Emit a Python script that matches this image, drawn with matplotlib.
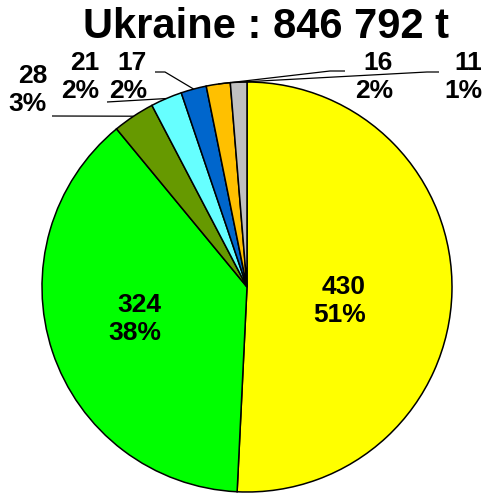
import numpy as np
import matplotlib.pyplot as plt

plt.rcParams['font.family'] = ['Liberation Sans', 'DejaVu Sans']

# production in thousand tonnes
values = [430, 324, 28, 21, 17, 16, 11]
colors = ['#FFFF00', '#00FF00', '#669900', '#66FFFF', '#0066CC', '#FFC000', '#C0C0C0']
title = 'Ukraine : 846 792 t'

# label anchors (right edge, vertical centre) in pixels, y measured from the bottom
label_pos = [(366, 192), (161, 174), (47, 403), (99, 416), (147, 416), (393, 416), (482, 416)]
# leader line waypoints for the small slices (label side first)
leaders = {2: [(52, 377)], 3: [(107, 391)], 4: [(155, 421), (165, 421)],
           5: [(345, 422), (330, 422)], 6: [(439, 421), (427, 421)]}

fig = plt.figure(figsize=(4.9, 4.93), dpi=100)
ax = fig.add_axes([0, 0, 1, 1])

cx, cy, r = 247, 206, 205
wedges, _ = ax.pie(values, colors=colors, startangle=90, counterclock=False,
                   center=(cx, cy), radius=r, frame=True,
                   wedgeprops=dict(edgecolor='black', linewidth=1.1))
ax.set_xlim(0, 490)
ax.set_ylim(0, 493)
ax.axis('off')

total = sum(values)
for i, (w, v) in enumerate(zip(wedges, values)):
    lx, ly = label_pos[i]
    ax.text(lx, ly, f'{v}\n{v / total * 100:.0f}%', ha='right', va='center',
            multialignment='right', fontsize=19, fontweight='bold', linespacing=1.25)
    if i in leaders:
        mid = np.deg2rad((w.theta1 + w.theta2) / 2)
        pts = leaders[i] + [(cx + r * np.cos(mid), cy + r * np.sin(mid))]
        xs, ys = zip(*pts)
        ax.plot(xs, ys, color='black', linewidth=0.9, solid_capstyle='butt')

ax.text(266, 455, title, ha='center', va='baseline', fontsize=30, fontweight='bold')

fig.savefig('out.png', dpi=100)
